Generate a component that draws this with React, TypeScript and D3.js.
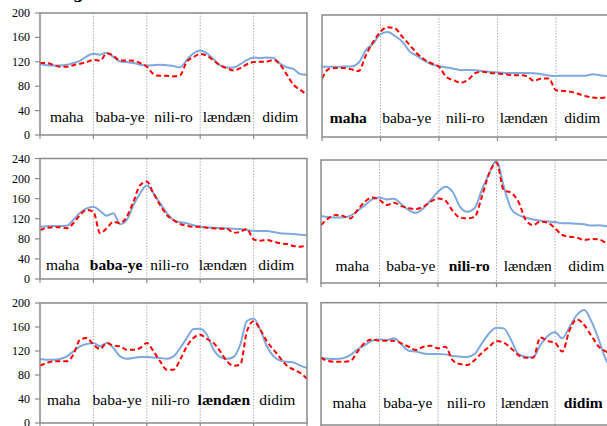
import React, { useEffect } from 'react';
import * as d3 from 'd3';

const categories = ['maha', 'baba-ye', 'nili-ro', 'lændæn', 'didim'];
const ticks200 = [0, 40, 80, 120, 160, 200];
const ticks240 = [0, 40, 80, 120, 160, 200, 240];

const p1Blue = [116,114.5,114,114,115,118,121.6,129,133,131.5,135,127.7,120.5,119.5,118,115,114,114.5,115,114.5,113,111,123,134,138.6,134,124,114,110.7,110.7,116,123,127,126,127,126,116.7,111,108,100,98.6];
const p1Red = [118,118,115,112,112,114.5,116.7,119.5,123,122,134,130,122,122,121.6,118,112,100,97,97,96,98,120.5,127.7,133,130,122,114,109.6,105.8,109.6,116,119.5,120,120.5,123,115,98.6,82,74,65.7];

const p2Blue = [115,115,115,115.6,115.6,121.6,142.5,153,168.8,172,165.5,156,140,133,125,119,116,114,112,109.6,110,109.6,108,107,105.8,105,105,105,105,104.7,103,101,100,100.5,100.5,100.5,100.5,103,101.4,99.7,98];
const p2Red = [96,112,113,113,111,108,134,156,172.6,180,178,164,150.7,137,127,120.5,115,98.6,93,88.8,94,105,107,105,104,103,101.4,101.4,99.7,92,96,96,76.7,75.6,74,71,67.4,64.7,64,64.7,64];

const p3Blue = [104,105,105.6,105.6,106,117.5,132,140.8,144,135.5,126,131,109,117.5,147.4,170.6,186,170.6,150.7,131,117.5,113,111,107,104,103,102,101.6,101,100,99.6,97.6,96,95.6,95.6,93.6,91,90.3,89.6,88.3,87];
const p3Red = [97.6,102,103,103,101,111,127.5,137.5,134,91,101,114,111,124,154,187,194,170.6,147.4,127.5,117.5,109.6,106,104,104,102,101,100,100,92,94,99.6,79,76.4,77.7,74.4,71,69.7,65.7,64.4,66.4];

const p4Blue = [131,129,128,128,131,140.8,152,163,167,163,164.6,153.5,142.4,137,145.7,162,178,188,178,149,139,145.7,181.5,214,238.7,188,145,132.7,127.5,124,121.6,120,119,116.4,116.4,115.8,114.5,112,112.5,111,110];
const p4Red = [113,126,132.7,131,126,142.4,158.7,167,162,152,156.7,150,145.7,144.4,149,158.7,165,160.7,141,127.5,126,129,168.5,214,234.8,181,176,158.7,123,113,119.7,117.7,106.7,93.7,90.4,88.5,84,86,85.2,78.7,77];

const p5Blue = [106.7,105.6,105.6,106.7,111,119.4,127.8,131.7,133.3,127.8,133.3,125,111,107,108.3,110,110,109,108.3,107,111,125,141.7,156.7,157,147,122,110,107,110,130.6,170,174,155.6,127.8,111,104,102,101,95.6,91.7];
const p5Red = [95.6,100,102.8,102.8,102.8,114,139,141.7,130.6,123.3,133.3,129,127.8,122,122,125,133.3,119.4,102.8,88.9,88.9,105.6,127.8,141.7,147.2,140,133.3,119.4,102.8,95.6,97.2,152.8,169.4,155.6,136,122,108.3,95.6,88.9,83.3,73.9];

const p6Blue = [110,108.4,108,109,114.4,123.7,130.8,138,140,139,141.7,131.9,121.5,120,117,116,116,115.5,112.8,111.7,111,116,133.5,150,159,158,139,116,111.7,110.6,130.8,145.5,151.5,141.7,160.8,180,188,169,139,106,92];
const p6Red = [110,104.6,103.5,103.5,104.6,120,134.6,140,137.9,137.9,137.9,133.5,128,122.6,128,129.7,125.3,128,106,99.7,98,106,118,128,137.3,134.6,125.3,114.4,110,110,143,137.3,134.6,120,155.3,172.7,163.5,145.5,128,120,117];

type PanelDef = {
  x: number; y: number; w: number; h: number; max: number; ticks: number[];
  blue: number[]; red: number[]; bold: number; labelY: number; labelDx: number; axis: boolean; font: string;
};

const panels: PanelDef[] = [
  { x: 40, y: 13, w: 267, h: 122, max: 200, ticks: ticks200, blue: p1Blue, red: p1Red, bold: -1, labelY: 121.7, labelDx: 0, axis: true, font: 'Times New Roman' },
  { x: 322, y: 15, w: 292.5, h: 122, max: 200, ticks: ticks200, blue: p2Blue, red: p2Red, bold: 0, labelY: 122.7, labelDx: -3, axis: false, font: 'serif' },
  { x: 40, y: 158.5, w: 267, h: 120.5, max: 240, ticks: ticks240, blue: p3Blue, red: p3Red, bold: 1, labelY: 270, labelDx: -4, axis: true, font: 'Liberation Serif' },
  { x: 321, y: 160, w: 292.5, h: 123, max: 240, ticks: ticks240, blue: p4Blue, red: p4Red, bold: 2, labelY: 270.7, labelDx: 2, axis: false, font: 'Tinos' },
  { x: 40, y: 303, w: 267, h: 120, max: 200, ticks: ticks200, blue: p5Blue, red: p5Red, bold: 3, labelY: 405, labelDx: -3, axis: true, font: 'Times New Roman' },
  { x: 321, y: 302.7, w: 292.5, h: 122.3, max: 200, ticks: ticks200, blue: p6Blue, red: p6Red, bold: 4, labelY: 408.3, labelDx: -1, axis: false, font: 'Liberation Serif' },
];

const FRAME = '#8a8a8a';

function Panel({ p, idx }: { p: PanelDef; idx: number }) {
  const xs = d3.scaleLinear().domain([0, p.blue.length - 1]).range([p.x, p.x + p.w]);
  const ys = d3.scaleLinear().domain([0, p.max]).range([p.y + p.h, p.y]);
  const seg = d3.scaleLinear().domain([0, categories.length]).range([p.x, p.x + p.w]);
  const line = d3.line<number>().x((_, i) => xs(i)).y((d) => ys(d)).curve(d3.curveMonotoneX);
  const clipId = `clip${idx}`;
  const bounds = d3.range(categories.length + 1);
  return (
    <g>
      <defs>
        <clipPath id={clipId}>
          <rect x={p.x} y={p.y} width={p.w} height={p.h} />
        </clipPath>
      </defs>
      {bounds.slice(1, -1).map((b) => (
        <line key={'g' + b} x1={seg(b)} x2={seg(b)} y1={p.y} y2={p.y + p.h}
          stroke="#a6a6a6" strokeWidth={0.9} strokeDasharray="1.5,1.5" />
      ))}
      {categories.map((c, i) => (
        i === p.bold ? (
          <text key={c} x={(seg(i) + seg(i + 1)) / 2 + p.labelDx} y={p.labelY} textAnchor="middle"
            fontFamily={p.font} fontSize={15.5} fontWeight="bold">{c}</text>
        ) : (
          <text key={c} x={(seg(i) + seg(i + 1)) / 2 + p.labelDx} y={p.labelY} textAnchor="middle"
            fontFamily={p.font} fontSize={15.5}>{c}</text>
        )
      ))}
      <g clipPath={`url(#${clipId})`}>
        <path d={line(p.blue) || ''} fill="none" stroke="#7fa8de" strokeWidth={2} />
        <path d={line(p.red) || ''} fill="none" stroke="#ff0000" strokeWidth={2} strokeDasharray="5,3" />
      </g>
      <rect x={p.x} y={p.y} width={p.w} height={p.h} fill="none" stroke={FRAME} strokeWidth={1.5} />
      {bounds.map((b) => (
        <line key={'t' + b} x1={seg(b)} x2={seg(b)} y1={p.y + p.h} y2={p.y + p.h + 4} stroke={FRAME} strokeWidth={1.2} />
      ))}
      {p.axis && p.ticks.map((t) => (
        <g key={'y' + t}>
          <line x1={p.x - 5} x2={p.x} y1={ys(t)} y2={ys(t)} stroke={FRAME} strokeWidth={1.2} />
          <text x={p.x - 10} y={ys(t) + 4} textAnchor="end" fontFamily={p.font} fontSize={12}>{t}</text>
        </g>
      ))}
    </g>
  );
}

export default function App() {
  useEffect(() => {
    document.body.style.margin = '0';
    document.documentElement.style.overflow = 'hidden';
  }, []);
  return (
    <svg width={607} height={426}>
      <text x={73} y={-1} fontFamily="DejaVu Serif" fontSize={15} fontWeight="bold">g</text>
      {panels.map((p, i) => <Panel key={i} p={p} idx={i} />)}
    </svg>
  );
}
